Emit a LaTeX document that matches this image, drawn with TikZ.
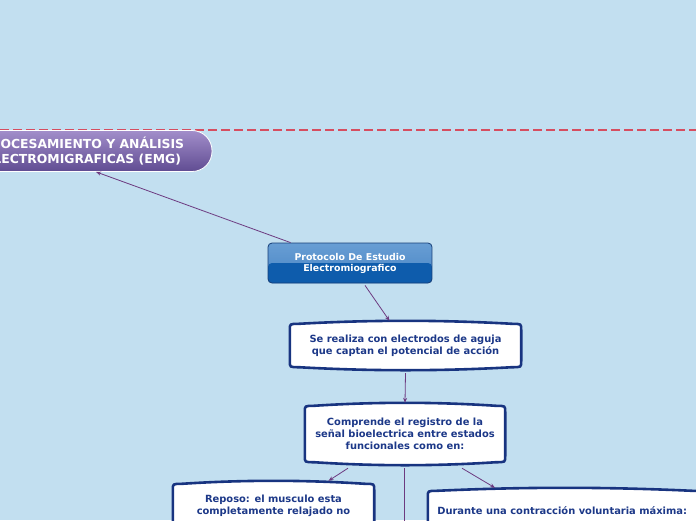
\documentclass[tikz,border=0pt]{standalone}
\usepackage{fontspec}
\setmainfont{DejaVu Sans}
\usetikzlibrary{arrows.meta,calc,positioning}

\definecolor{bgblue}{RGB}{194,223,240}
\definecolor{dashred}{RGB}{214,78,96}
\definecolor{linkpurple}{RGB}{108,58,128}
\definecolor{titletop}{RGB}{162,142,202}
\definecolor{titlebot}{RGB}{96,76,146}
\definecolor{prototop}{RGB}{104,158,212}
\definecolor{protomid}{RGB}{72,132,196}
\definecolor{protolow}{RGB}{14,92,172}
\definecolor{protoedge}{RGB}{22,62,120}
\definecolor{navyedge}{RGB}{24,52,128}
\definecolor{navytext}{RGB}{28,56,136}

\pgfdeclarelayer{background}
\pgfsetlayers{background,main}

\tikzset{
  link/.style={draw=linkpurple, line width=0.8pt, -{Stealth[length=5pt,width=4pt]}},
  titlebox/.style={rounded corners=20pt, draw=white, line width=0.8pt, top color=titletop, bottom color=titlebot,
    text=white, font=\fontsize{12.4}{15}\selectfont\bfseries, align=center, minimum width=258pt, minimum height=41pt},
  protobox/.style={rounded corners=4pt, draw=protoedge, line width=0.8pt, top color=prototop, bottom color=protomid,
    text=white, font=\fontsize{9.4}{11}\selectfont\bfseries, align=center, minimum width=164pt, minimum height=40pt,
    path picture={\fill[protolow] (path picture bounding box.west) rectangle (path picture bounding box.south east);}},
  bubbletext/.style={text=navytext, font=\fontsize{9.9}{12}\selectfont\bfseries, align=center},
  bubbleline/.style={fill=white, draw=navyedge, line width=2.6pt},
  bubbleshadow/.style={fill=black!35, opacity=0.45, yshift=-2.5pt},
}

% outline of a white bubble round a node; #2 = extra length below
\newcommand{\bubblepath}[2]{%
  ($(#1.north west)+(0,9)$)
  .. controls ($(#1.north west)+(0,3)$) .. ($(#1.north west)+(9,3)$)
  .. controls ($(#1.north west)!0.35!(#1.north east)+(0,-1)$) and ($(#1.north east)!0.35!(#1.north west)+(0,-1)$) .. ($(#1.north east)+(-9,3)$)
  .. controls ($(#1.north east)+(0,3)$) .. ($(#1.north east)+(0,9)$)
  -- ($(#1.south east)+(0,#2-9)$)
  .. controls ($(#1.south east)+(0,#2-3)$) .. ($(#1.south east)+(-9,#2-3)$)
  .. controls ($(#1.south east)!0.35!(#1.south west)+(0,#2+1)$) and ($(#1.south west)!0.35!(#1.south east)+(0,#2+1)$) .. ($(#1.south west)+(9,#2-3)$)
  .. controls ($(#1.south west)+(0,#2-3)$) .. ($(#1.south west)+(0,#2-9)$)
  -- cycle}

\begin{document}
\begin{tikzpicture}[x=1pt, y=-1pt]
	\useasboundingbox (0,0) rectangle (696,520);

	% boxes
	\node[titlebox] (title) at (83,151) {PROCESAMIENTO Y ANÁLISIS\\ELECTROMIGRAFICAS (EMG)};
	\node[protobox] (proto) at (350,263) {Protocolo De Estudio\\Electromiografico};

	\node[bubbletext, minimum width=231pt, minimum height=49pt] (realiza) at (405.5,345.5) {
		Se realiza con electrodos de aguja\\
		que captan el potencial de acción
	};
	\node[bubbletext, minimum width=200pt, minimum height=62pt] (comprende) at (405,434) {
		Comprende el registro de la\\
		señal bioelectrica entre estados\\
		funcionales como en:
	};
	\node[bubbletext, minimum width=201pt, minimum height=49pt] (reposo) at (273.5,505.5) {
		Reposo: el musculo esta\\
		completamente relajado no
	};
	\node[bubbletext, minimum width=273pt, minimum height=46pt] (durante) at (564.5,511) {
		Durante una contracción voluntaria máxima:
	};
	\coordinate (below) at (404,560);

	\begin{pgfonlayer}{background}
		\fill[bgblue] (0,0) rectangle (696,520);
		\draw[dashred, line width=1.2pt, dash pattern=on 9pt off 4pt] (0,130) -- (696,130);

		\foreach \b/\e in {realiza/0, comprende/0, reposo/40, durante/40} {
			\fill[bubbleshadow] \bubblepath{\b}{\e};
			\filldraw[bubbleline] \bubblepath{\b}{\e};
		}
	\end{pgfonlayer}

	% connectors
	\draw[link] ($(proto.north west)+(23,0)$) -- ($(title.south)+(13,0)$);
	\draw[link] ($(proto.south)+(15,2)$) -- ($(realiza.north)+(-16,0)$);
	\draw[link] ($(realiza.south)+(0,3)$) -- (comprende.north);
	\draw[link] ($(comprende.south)+(-57,3)$) -- ($(reposo.north)+(55,0)$);
	\draw[link] ($(comprende.south)+(57,3)$) -- ($(durante.north)+(-69.5,0)$);
	\draw[linkpurple, line width=0.8pt] ($(comprende.south)+(-1,3)$) -- (below);
\end{tikzpicture}
\end{document}
